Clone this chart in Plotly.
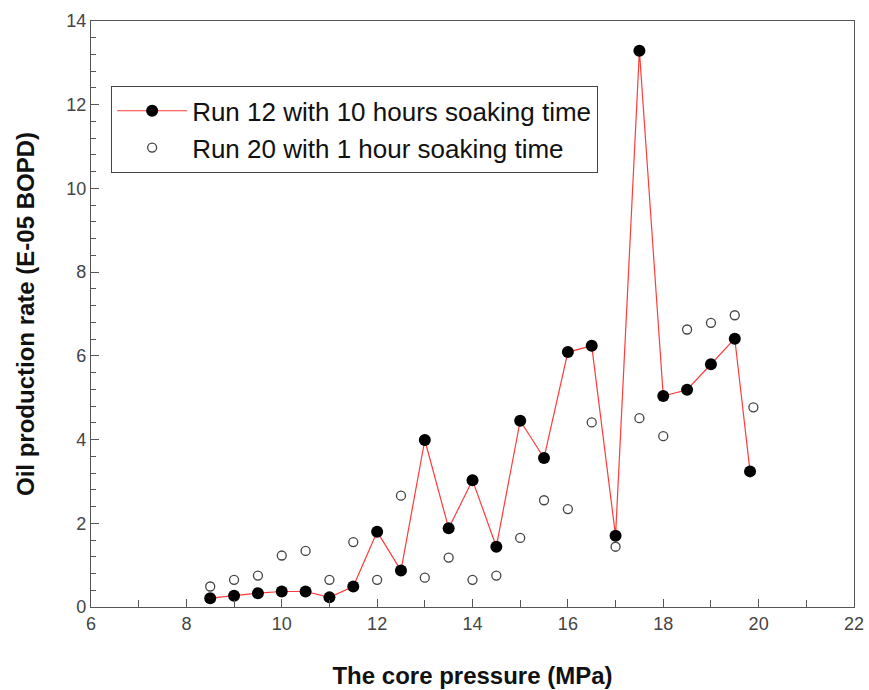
import plotly.graph_objects as go

x_run12 = [8.5, 9.0, 9.5, 10.0, 10.5, 11.0, 11.5, 12.0, 12.5, 13.0, 13.5, 14.0, 14.5, 15.0,
           15.5, 16.0, 16.5, 17.0, 17.5, 18.0, 18.5, 19.0, 19.5, 19.82]
y_run12 = [0.21, 0.27, 0.33, 0.37, 0.37, 0.23, 0.49, 1.80, 0.87, 3.99, 1.88, 3.03, 1.44, 4.45,
           3.56, 6.09, 6.24, 1.70, 13.29, 5.04, 5.19, 5.80, 6.41, 3.24]

x_run20 = [8.5, 9.0, 9.5, 10.0, 10.5, 11.0, 11.5, 12.0, 12.5, 13.0, 13.5, 14.0, 14.5, 15.0,
           15.5, 16.0, 16.5, 17.0, 17.5, 18.0, 18.5, 19.0, 19.5, 19.89]
y_run20 = [0.49, 0.65, 0.75, 1.23, 1.34, 0.65, 1.55, 0.65, 2.66, 0.70, 1.18, 0.65, 0.75, 1.65,
           2.55, 2.34, 4.41, 1.44, 4.51, 4.08, 6.63, 6.79, 6.97, 4.77]

x_ticks = [6, 8, 10, 12, 14, 16, 18, 20, 22]
y_ticks = [0, 2, 4, 6, 8, 10, 12, 14]

fig = go.Figure()
fig.add_trace(go.Scatter(
    x=x_run12, y=y_run12, mode="lines+markers",
    name="Run 12 with 10 hours soaking time",
    line=dict(color="#ff3b3b", width=1.2),
    marker=dict(color="black", size=12, line=dict(color="black", width=0)),
))
fig.add_trace(go.Scatter(
    x=x_run20, y=y_run20, mode="markers",
    name="Run 20 with 1 hour soaking time",
    marker=dict(color="white", size=9, symbol="circle",
                line=dict(color="#444444", width=1.3)),
))

axis_common = dict(
    showline=True, linecolor="#555555", linewidth=1.3, mirror=True,
    ticks="inside", tickcolor="#555555", ticklen=8, tickwidth=1,
    showgrid=False, zeroline=False, automargin=False,
    tickfont=dict(family="Arial, Liberation Sans", size=18, color="#444444"),
)

fig.update_xaxes(
    range=[6, 22], tickvals=x_ticks, ticktext=[str(v) for v in x_ticks],
    minor=dict(ticks="inside", dtick=1, ticklen=7, tickcolor="#555555"),
    title=dict(text="<b>The core pressure (MPa)</b>", standoff=34,
               font=dict(family="Arial, Liberation Sans", size=24, color="#111111")),
    **axis_common,
)
fig.update_yaxes(
    range=[0, 14], tickvals=y_ticks, ticktext=[str(v) for v in y_ticks],
    minor=dict(ticks="inside", dtick=0.4, ticklen=5, tickcolor="#555555"),
    title=dict(text="<b>Oil production rate (E-05 BOPD)</b>", standoff=24,
               font=dict(family="Arial, Liberation Sans", size=24, color="#111111")),
    **axis_common,
)

fig.update_layout(
    width=869, height=690,
    margin=dict(l=91, r=15, t=21, b=83),
    plot_bgcolor="white", paper_bgcolor="white",
    showlegend=True,
    legend=dict(
        x=0.026, y=0.889, xanchor="left", yanchor="top",
        bordercolor="#444444", borderwidth=1.3, bgcolor="white",
        font=dict(family="Arial, Liberation Sans", size=26, color="#111111"),
        itemwidth=70, tracegroupgap=0,
    ),
)

fig.write_html("out.html")
